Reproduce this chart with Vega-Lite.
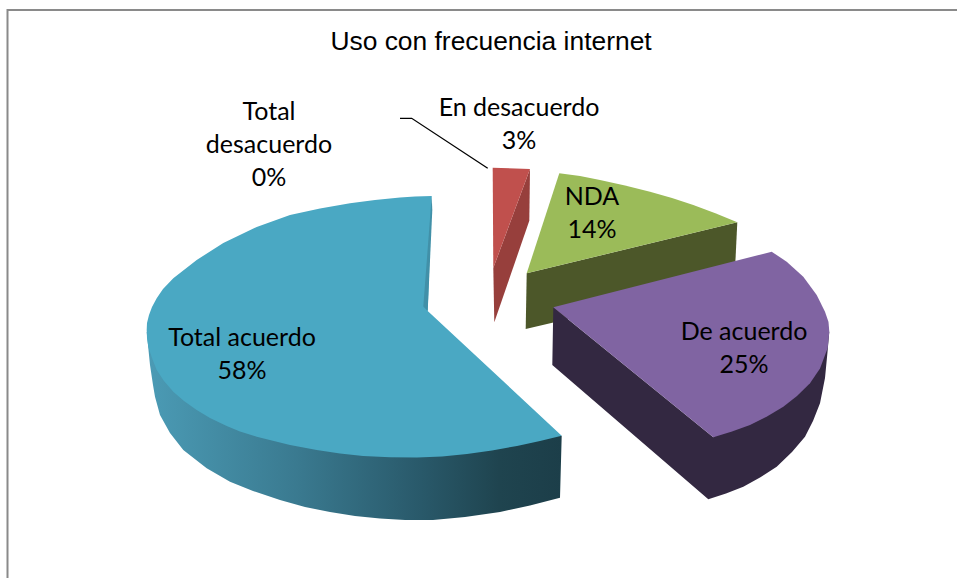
{
"$schema":"https://vega.github.io/schema/vega-lite/v6.json",
"width":957,"height":578,"padding":0,"autosize":"none","background":"white",
"title":{"text":"Uso con frecuencia internet","font":"Liberation Sans","fontSize":26.4,"fontWeight":"normal","color":"#000000","anchor":"middle","frame":"group","orient":"top","offset":-55,"dx":12.5},
"config":{"view":{"stroke":null}},
"datasets":{
"side":[
{"o":1,"x":146.7,"y":332},{"o":2,"x":150,"y":365},{"o":3,"x":153,"y":385},{"o":4,"x":155,"y":396.7},{"o":5,"x":160,"y":415},{"o":6,"x":170,"y":433},{"o":7,"x":183.3,"y":450},{"o":8,"x":206.7,"y":468.3},{"o":9,"x":230,"y":481.7},{"o":10,"x":253,"y":491},{"o":11,"x":280,"y":500},{"o":12,"x":305,"y":507},{"o":13,"x":330,"y":512},{"o":14,"x":355,"y":516},{"o":15,"x":380,"y":518.5},{"o":16,"x":405,"y":520},{"o":17,"x":433,"y":520},{"o":18,"x":465,"y":517},{"o":19,"x":500,"y":512},{"o":20,"x":530,"y":505.5},{"o":21,"x":560,"y":497.7},{"o":22,"x":561.7,"y":435.7},{"o":23,"x":417,"y":440},{"o":24,"x":146.7,"y":332}
],
"parts":[
{"part":"teal","o":1,"x":431.7,"y":196},{"part":"teal","o":2,"x":415,"y":196.6},{"part":"teal","o":3,"x":400,"y":197.6},{"part":"teal","o":4,"x":375,"y":200},{"part":"teal","o":5,"x":350,"y":203.3},{"part":"teal","o":6,"x":320,"y":208.5},{"part":"teal","o":7,"x":290,"y":215},{"part":"teal","o":8,"x":256.7,"y":227},{"part":"teal","o":9,"x":223.3,"y":243},{"part":"teal","o":10,"x":196.7,"y":260},{"part":"teal","o":11,"x":173.3,"y":278.3},{"part":"teal","o":12,"x":163,"y":289},{"part":"teal","o":13,"x":156.7,"y":298.3},{"part":"teal","o":14,"x":152,"y":307},{"part":"teal","o":15,"x":149,"y":315},{"part":"teal","o":16,"x":147,"y":323},{"part":"teal","o":17,"x":146.7,"y":330},{"part":"teal","o":18,"x":147,"y":338},{"part":"teal","o":19,"x":148.3,"y":346.7},{"part":"teal","o":20,"x":152,"y":358},{"part":"teal","o":21,"x":156.7,"y":370},{"part":"teal","o":22,"x":164,"y":381},{"part":"teal","o":23,"x":173.3,"y":391.7},{"part":"teal","o":24,"x":184,"y":401},{"part":"teal","o":25,"x":196.7,"y":410},{"part":"teal","o":26,"x":210,"y":418},{"part":"teal","o":27,"x":226.7,"y":426},{"part":"teal","o":28,"x":240,"y":431.5},{"part":"teal","o":29,"x":256.7,"y":436.7},{"part":"teal","o":30,"x":290,"y":445},{"part":"teal","o":31,"x":316.7,"y":450},{"part":"teal","o":32,"x":340,"y":453.5},{"part":"teal","o":33,"x":363,"y":456},{"part":"teal","o":34,"x":390,"y":457.2},{"part":"teal","o":35,"x":417,"y":457.5},{"part":"teal","o":36,"x":442,"y":456.5},{"part":"teal","o":37,"x":467,"y":454},{"part":"teal","o":38,"x":492,"y":450.5},{"part":"teal","o":39,"x":517,"y":446},{"part":"teal","o":40,"x":540,"y":441},{"part":"teal","o":41,"x":561.7,"y":435.7},{"part":"teal","o":42,"x":427.7,"y":311},{"part":"teal","o":43,"x":431.7,"y":196},
{"part":"tealwall","o":1,"x":431.7,"y":196},{"part":"tealwall","o":2,"x":423.3,"y":306.5},{"part":"tealwall","o":3,"x":427.7,"y":311},{"part":"tealwall","o":4,"x":432.3,"y":210},{"part":"tealwall","o":5,"x":431.7,"y":196},
{"part":"redwall","o":1,"x":530,"y":169},{"part":"redwall","o":2,"x":529.3,"y":220.7},{"part":"redwall","o":3,"x":494.3,"y":322.3},{"part":"redwall","o":4,"x":493.3,"y":268},{"part":"redwall","o":5,"x":530,"y":169},
{"part":"red","o":1,"x":492.7,"y":167.7},{"part":"red","o":2,"x":530,"y":169},{"part":"red","o":3,"x":493.3,"y":268},{"part":"red","o":4,"x":492.7,"y":167.7},
{"part":"greenwall","o":1,"x":526.7,"y":273.3},{"part":"greenwall","o":2,"x":737.3,"y":222.3},{"part":"greenwall","o":3,"x":734.5,"y":280},{"part":"greenwall","o":4,"x":525.7,"y":329},{"part":"greenwall","o":5,"x":526.7,"y":273.3},
{"part":"green","o":1,"x":559.3,"y":173.3},{"part":"green","o":2,"x":580,"y":176},{"part":"green","o":3,"x":600,"y":180},{"part":"green","o":4,"x":625,"y":185.5},{"part":"green","o":5,"x":650,"y":191.7},{"part":"green","o":6,"x":672,"y":198},{"part":"green","o":7,"x":693.3,"y":205},{"part":"green","o":8,"x":716,"y":213.5},{"part":"green","o":9,"x":737.3,"y":222.3},{"part":"green","o":10,"x":526.7,"y":273.3},{"part":"green","o":11,"x":559.3,"y":173.3},
{"part":"purplewall","o":1,"x":553.3,"y":307.3},{"part":"purplewall","o":2,"x":713.3,"y":437.3},{"part":"purplewall","o":3,"x":829.3,"y":331.7},{"part":"purplewall","o":4,"x":827.7,"y":350},{"part":"purplewall","o":5,"x":825,"y":378},{"part":"purplewall","o":6,"x":820,"y":403.3},{"part":"purplewall","o":7,"x":813,"y":421},{"part":"purplewall","o":8,"x":805,"y":436.7},{"part":"purplewall","o":9,"x":792,"y":452},{"part":"purplewall","o":10,"x":776.7,"y":466.7},{"part":"purplewall","o":11,"x":760,"y":477.5},{"part":"purplewall","o":12,"x":743.3,"y":486.7},{"part":"purplewall","o":13,"x":726,"y":493.5},{"part":"purplewall","o":14,"x":708.3,"y":499.3},{"part":"purplewall","o":15,"x":552.3,"y":365},{"part":"purplewall","o":16,"x":553.3,"y":307.3},
{"part":"purple","o":1,"x":771.7,"y":251.7},{"part":"purple","o":2,"x":786.7,"y":261.7},{"part":"purple","o":3,"x":803.3,"y":276.7},{"part":"purple","o":4,"x":816.7,"y":295},{"part":"purple","o":5,"x":825,"y":311.7},{"part":"purple","o":6,"x":828.5,"y":322},{"part":"purple","o":7,"x":829.3,"y":331.7},{"part":"purple","o":8,"x":827.7,"y":348},{"part":"purple","o":9,"x":820,"y":368.5},{"part":"purple","o":10,"x":810,"y":383.3},{"part":"purple","o":11,"x":797,"y":396},{"part":"purple","o":12,"x":783.3,"y":406.7},{"part":"purple","o":13,"x":767,"y":416.5},{"part":"purple","o":14,"x":750,"y":425},{"part":"purple","o":15,"x":732,"y":431.5},{"part":"purple","o":16,"x":713.3,"y":437.3},{"part":"purple","o":17,"x":553.3,"y":307.3},{"part":"purple","o":18,"x":771.7,"y":251.7}
],
"guides":[
{"part":"leader","o":1,"x":400,"y":118.3},{"part":"leader","o":2,"x":411.7,"y":118.3},{"part":"leader","o":3,"x":487.7,"y":168.3}
],
"frame":[
{"part":"frame","o":1,"x":957,"y":10},{"part":"frame","o":2,"x":7.5,"y":10},{"part":"frame","o":3,"x":7.5,"y":578}
],
"labels":[
{"t":"Total","x":269,"y":111.5},{"t":"desacuerdo","x":269,"y":144.5},{"t":"0%","x":269,"y":177.5},
{"t":"En desacuerdo","x":519,"y":107.5},{"t":"3%","x":519,"y":140.5},
{"t":"NDA","x":592,"y":196.5},{"t":"14%","x":592,"y":229.5},
{"t":"De acuerdo","x":744,"y":331.5},{"t":"25%","x":744,"y":364.5},
{"t":"Total acuerdo","x":242,"y":337.5},{"t":"58%","x":242,"y":370.5}
]
},
"encoding":{
"x":{"field":"x","type":"quantitative","scale":{"domain":[0,957],"nice":false,"zero":false},"axis":null},
"y":{"field":"y","type":"quantitative","scale":{"domain":[0,578],"reverse":true,"nice":false,"zero":false},"axis":null}
},
"layer":[
{"data":{"name":"frame"},"mark":{"type":"line","color":"#8a8a8a","strokeWidth":2,"clip":false},"encoding":{"order":{"field":"o","type":"quantitative"}}},
{"data":{"name":"side"},"mark":{"type":"line","filled":true,"fill":{"x1":0,"y1":0,"x2":1,"y2":0,"gradient":"linear","stops":[{"offset":0,"color":"#4b9bb5"},{"offset":0.36,"color":"#3a7a90"},{"offset":0.66,"color":"#29596a"},{"offset":0.85,"color":"#1f444f"},{"offset":1,"color":"#1c3e49"}]}},"encoding":{"order":{"field":"o","type":"quantitative"}}},
{"data":{"name":"parts"},"mark":{"type":"line","filled":true},"encoding":{
"detail":{"field":"part","type":"nominal"},
"order":{"field":"o","type":"quantitative"},
"color":{"field":"part","type":"nominal","legend":null,"sort":null,"scale":{"domain":["teal","tealwall","redwall","red","greenwall","green","purplewall","purple"],"range":["#4aa8c3","#4190a8","#973f3c","#c0504d","#4c5729","#9bbb59","#332841","#8064a2"]}}
}},
{"data":{"name":"guides"},"mark":{"type":"line","color":"#000000","strokeWidth":1.3},"encoding":{"order":{"field":"o","type":"quantitative"}}},
{"data":{"name":"labels"},"mark":{"type":"text","font":"Lato","fontSize":25,"color":"#000000","align":"center","baseline":"middle"},"encoding":{"text":{"field":"t","type":"nominal"}}}
]
}
